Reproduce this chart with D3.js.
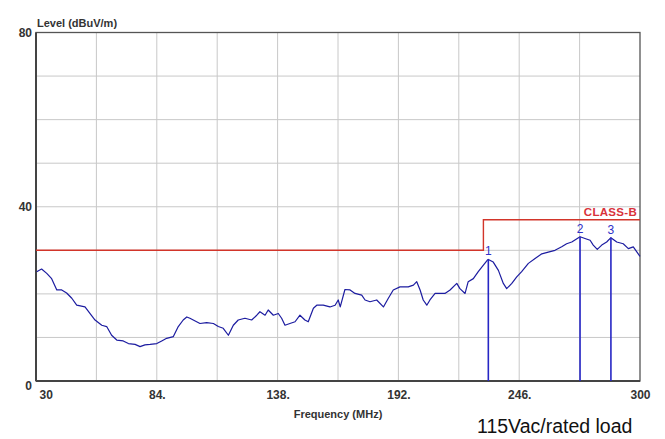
<!DOCTYPE html>
<html><head><meta charset="utf-8">
<script src="https://cdn.jsdelivr.net/npm/d3@7"></script>
<style>body{margin:0;background:#fff}svg{display:block}</style>
</head><body>
<svg id="c" width="665" height="439"></svg>
<script>
const freq = [30.3,32.5,34.8,37.0,39.3,41.5,43.7,46.0,48.2,51.9,54.1,56.4,59.4,61.6,63.8,66.1,69.0,71.3,74.3,76.5,78.7,81.0,84.0,86.2,88.4,91.4,93.6,95.8,97.4,98.8,100.3,103.3,106.3,109.3,111.5,113.7,116.0,118.2,120.4,123.4,126.4,128.7,130.1,132.4,133.8,136.1,138.3,139.8,141.3,143.5,145.8,148.0,150.2,151.7,154.0,155.5,158.4,161.4,163.7,165.1,166.0,168.1,170.4,172.6,175.6,177.1,179.3,182.3,185.3,187.5,189.7,192.7,196.4,198.7,200.2,201.7,203.1,204.7,206.1,208.4,210.6,212.8,215.1,218.1,219.5,221.8,223.2,225.5,227.7,230.0,231.7,232.2,234.4,236.7,238.9,240.4,242.7,244.9,247.1,250.1,253.1,256.1,259.0,262.0,265.0,267.2,269.5,273.2,275.4,277.7,279.1,280.9,282.9,285.1,287.0,289.6,292.5,294.8,297.0,299.2,300];
const level = [25.1,25.7,24.7,23.5,20.9,20.9,20.2,19.0,17.4,17.0,15.5,14.0,12.8,12.5,10.5,9.4,9.2,8.6,8.4,7.9,8.3,8.4,8.6,9.2,9.8,10.2,12.5,14.0,14.7,14.4,14.0,13.2,13.4,13.2,12.5,12.1,10.5,12.8,14.0,14.4,14.0,15.1,15.9,15.1,16.3,15.1,15.5,14.4,12.8,13.2,13.6,15.1,14.0,13.6,16.7,17.4,17.4,17.0,17.4,18.6,17.0,21.0,20.9,20.1,19.7,18.6,18.2,18.6,17.0,19.0,20.9,21.6,21.6,22.0,22.8,20.9,18.6,17.4,18.6,20.1,20.1,20.1,20.9,22.4,21.2,20.1,22.8,23.5,25.1,26.6,27.7,27.9,27.3,25.4,22.4,21.2,22.4,23.9,25.1,27.0,28.1,29.2,29.6,30.0,30.8,31.5,31.9,33.1,32.7,32.3,31.2,30.2,31.2,31.9,32.9,31.9,31.5,30.4,30.8,29.2,28.6];
const limitFreq = [30,230,230,300];
const limitLevel = [30,30,37,37];
const markerLabels = ["1","2","3"];
const markerFreq = [232.2,273.2,287.0];
const markerLevel = [27.9,33.1,32.9];
const xTicks = [30,84,138,192,246,300];
const xTickLabels = ["30","84.","138.","192.","246.","300"];
const yTicks = [0,40,80];
const xGrid = [57,84,111,138,165,192,219,246,273];
const yGrid = [10,20,30,50,60,70];

const svg = d3.select("#c");
const x = d3.scaleLinear().domain([30,300]).range([36,640]);
const y = d3.scaleLinear().domain([0,80]).range([381,32.5]);

// grid
svg.append("g").selectAll("line").data(xGrid).join("line")
  .attr("x1",d=>x(d)).attr("x2",d=>x(d)).attr("y1",y(80)).attr("y2",y(0))
  .attr("stroke","#c8c8c8").attr("stroke-width",1);
svg.append("g").selectAll("line").data(yGrid.concat([40])).join("line")
  .attr("x1",x(30)).attr("x2",x(300)).attr("y1",d=>y(d)).attr("y2",d=>y(d))
  .attr("stroke","#c8c8c8").attr("stroke-width",1);

// frame
svg.append("rect").attr("x",x(30)).attr("y",y(80)).attr("width",x(300)-x(30)).attr("height",y(0)-y(80))
  .attr("fill","none").attr("stroke","#555").attr("stroke-width",1.3);
svg.append("line").attr("x1",x(30)).attr("x2",x(30)).attr("y1",y(80)).attr("y2",y(0)).attr("stroke","#444").attr("stroke-width",2);
svg.append("line").attr("x1",x(30)).attr("x2",x(300)).attr("y1",y(0)).attr("y2",y(0)).attr("stroke","#444").attr("stroke-width",2);

// limit line
const limPts = limitFreq.map((f,i)=>[f,limitLevel[i]]);
svg.append("path").datum(limPts)
  .attr("d",d3.line().x(d=>x(d[0])).y(d=>y(d[1])))
  .attr("fill","none").attr("stroke","#d2352a").attr("stroke-width",1.4);
svg.append("text").attr("x",x(300)-3).attr("y",y(37)-4).attr("text-anchor","end")
  .attr("font-family","Liberation Sans, Arial, sans-serif").attr("font-weight","bold").attr("font-size",11.5)
  .attr("fill","#d8323a").attr("letter-spacing",0.3).text("CLASS-B");

// trace
const pts = freq.map((f,i)=>[f,level[i]]);
svg.append("path").datum(pts)
  .attr("d",d3.line().x(d=>x(d[0])).y(d=>y(d[1])))
  .attr("fill","none").attr("stroke","#1c1ca0").attr("stroke-width",1.2).attr("stroke-linejoin","round");

// markers
const mk = markerFreq.map((f,i)=>({f,l:markerLevel[i],t:markerLabels[i]}));
svg.append("g").selectAll("line").data(mk).join("line")
  .attr("x1",d=>x(d.f)).attr("x2",d=>x(d.f)).attr("y1",d=>y(d.l)).attr("y2",y(0))
  .attr("stroke","#2626c4").attr("stroke-width",1.6);
svg.append("g").selectAll("text").data(mk).join("text")
  .attr("x",d=>x(d.f)).attr("y",d=>y(d.l)-4).attr("text-anchor","middle")
  .attr("font-family","Liberation Sans, Arial, sans-serif").attr("font-size",12)
  .attr("fill","#3030c8").text(d=>d.t);

// axes
const font = "Liberation Sans, Arial, sans-serif";
const xa = svg.append("g").attr("transform",`translate(0,${y(0)})`)
  .call(d3.axisBottom(x).tickValues(xTicks).tickSize(0).tickPadding(9).tickFormat((d,i)=>xTickLabels[i]));
xa.select(".domain").remove();
xa.selectAll("text").attr("font-family",font).attr("font-weight","bold").attr("font-size",12).attr("fill","#333");
xa.selectAll("text").filter((d,i)=>i===0).attr("text-anchor","start").attr("dx",3);

const ya = svg.append("g").attr("transform",`translate(${x(30)},0)`)
  .call(d3.axisLeft(y).tickValues(yTicks).tickSize(0).tickPadding(4).tickFormat(d3.format("d")));
ya.select(".domain").remove();
ya.selectAll("text").attr("font-family",font).attr("font-weight","bold").attr("font-size",12).attr("fill","#333");
ya.selectAll("text").filter(d=>d===0).attr("dy","0.7em");

svg.append("text").attr("x",x(30)+1).attr("y",27).attr("font-family",font).attr("font-weight","bold")
  .attr("font-size",11).attr("fill","#333").text("Level (dBuV/m)");
svg.append("text").attr("x",338).attr("y",418).attr("text-anchor","middle").attr("font-family",font).attr("font-weight","bold")
  .attr("font-size",11).attr("fill","#333").text("Frequency (MHz)");
svg.append("text").attr("x",477).attr("y",433).attr("font-family",font)
  .attr("font-size",19.5).attr("fill","#111").text("115Vac/rated load");
</script>
</body></html>
